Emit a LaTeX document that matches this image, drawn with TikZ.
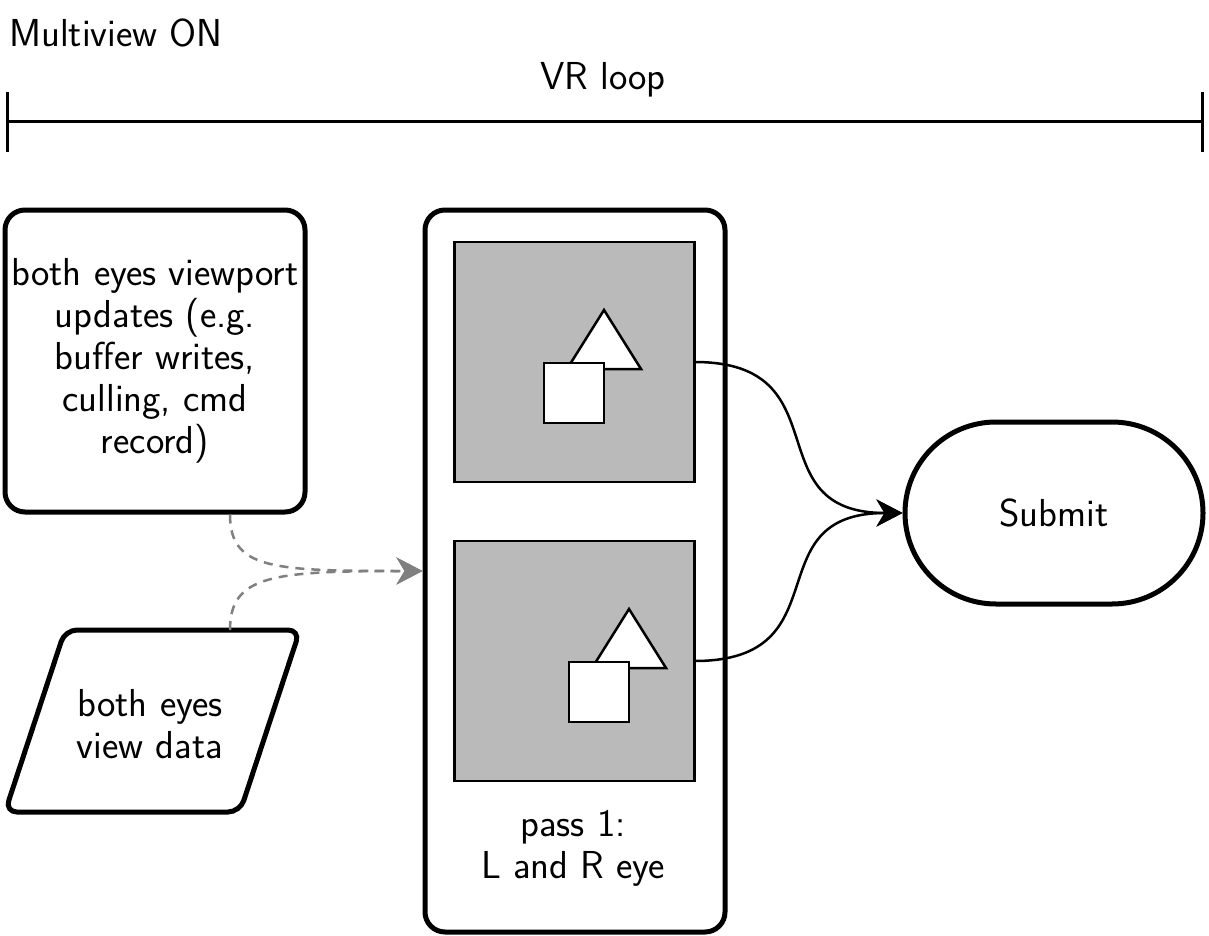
\documentclass[tikz,border=0pt]{standalone}
\usepackage{fontspec}
\definecolor{panelgray}{RGB}{186,186,186}
\definecolor{dashgray}{RGB}{128,128,128}
\usetikzlibrary{arrows.meta,positioning,calc,shapes.misc}

\begin{document}
\begin{tikzpicture}[x=1pt, y=-1pt,
      font=\sffamily\fontsize{39}{42}\selectfont,
      arr/.style={-{Stealth[length=26pt,width=27pt,inset=8pt]}, line width=2.5pt},
      darr/.style={arr, dashgray, dash pattern=on 9pt off 7pt},
      card/.style={draw, line width=5pt, rounded corners=20pt, align=center, inner sep=0pt},
      panel/.style={draw, line width=2.5pt, fill=panelgray, minimum size=240pt,
                    inner sep=0pt, outer sep=0pt},
      shp/.style={draw, line width=2.5pt, fill=white},
      lbl/.style={inner sep=0pt, align=center}
    ]
    \useasboundingbox (0,0) rectangle (1209,936);
    \node[lbl, anchor=west] (mv) at (9,33) {Multiview ON};
    \node[lbl] (vr) at (603,80) {VR loop};
    \coordinate (barl) at (6,122);
    \coordinate (barr) at (1204,122);
    \draw[{Bar[width=60pt]}-{Bar[width=60pt]}, line width=3pt] (barl) -- (barr);
    \node[card, minimum width=300pt, minimum height=302pt] (upd) at (155,361) {%
      both eyes viewport\\updates (e.g.\\buffer writes,\\culling, cmd\\record)};
    \node[lbl] (vd) at (150,724) {both eyes\\view data};
    \draw[line width=5pt, rounded corners=12pt]
      (65,630) -- (300,630) -- (240,812) -- (5,812) -- cycle;
    \coordinate (vdtop) at (230,630);
    \node[card, minimum width=300pt, minimum height=722pt] (pass) at (575,571) {};
    \node[panel] (top) at (574.5,362) {};
    \node[panel, below=59pt of top] (low) {};
    \foreach \p/\dx in {top/0, low/25} {
      \draw[shp] ($(\p)+(\dx,0)+(29.5,-52)$) -- ++(37,59) -- ++(-74,0) -- cycle;
      \draw[shp] ($(\p)+(\dx,0)+(-30.5,1)$) rectangle ++(60,60);
    }
    \node[lbl] (passlbl) at (573,848) {pass 1:\\L and R eye};
    \node[rounded rectangle, draw, line width=5pt, minimum width=298pt,
          minimum height=182pt, inner sep=0pt] (submit) at (1054,513) {Submit};
    \draw[arr] (top.east) .. controls +(150,0) and +(-150,0) .. (submit.west);
    \draw[arr] (low.east) .. controls +(150,0) and +(-150,0) .. (submit.west);
    \draw[darr] ($(upd.south)+(75,0)$) .. controls +(0,55) and +(-150,0) .. (pass.west);
    \draw[darr] (vdtop) .. controls +(0,-55) and +(-150,0) .. (pass.west);
  \end{tikzpicture}
\end{document}
